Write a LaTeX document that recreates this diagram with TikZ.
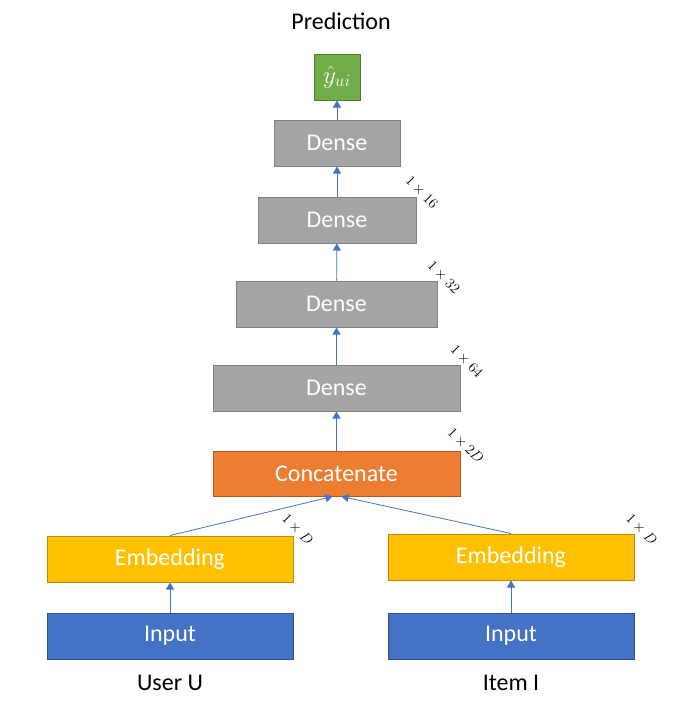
\documentclass[tikz,border=0pt]{standalone}
\usepackage{fontspec}
\setmainfont{Carlito}
\usetikzlibrary{arrows.meta}
\definecolor{densefill}{HTML}{A5A5A5}
\definecolor{denseline}{HTML}{7F7F7F}
\definecolor{catfill}{HTML}{ED7D31}
\definecolor{catline}{HTML}{AE5A21}
\definecolor{embfill}{HTML}{FFC000}
\definecolor{embline}{HTML}{BC8C00}
\definecolor{infill}{HTML}{4472C4}
\definecolor{inline}{HTML}{2F528F}
\definecolor{outfill}{HTML}{70AD47}
\definecolor{outline}{HTML}{507E32}
\definecolor{linkblue}{HTML}{4472C4}
\begin{document}
\begin{tikzpicture}[x=1pt,y=-1pt,
		box/.style={draw,line width=1pt,minimum height=46pt,inner sep=0pt,text=white,font=\fontsize{24}{28}\selectfont},
		dense/.style={box,fill=densefill,draw=denseline},
		link/.style={draw=linkblue,line width=0.8pt,-{Triangle[width=8pt,length=7pt]}},
		dim/.style={rotate=-45,inner sep=0pt,font=\fontsize{14}{15}\selectfont},
		caption/.style={font=\fontsize{24}{28}\selectfont}]
	\useasboundingbox (0,0) rectangle (691,721);
	
	\node[caption] (pred) at (341,21) {Prediction};
	\node[box,fill=outfill,draw=outline,minimum width=46pt,font=\fontsize{27}{30}\selectfont] (yhat) at (337,77) {$\hat{y}_{ui}$};
	
	\node[dense,minimum width=126pt] (dense1) at (337,143) {Dense};
	\node[dense,minimum width=158pt] (dense2) at (337,220) {Dense};
	\node[dense,minimum width=201pt] (dense3) at (336.5,304) {Dense};
	\node[dense,minimum width=247pt] (dense4) at (336.5,388) {Dense};
	\node[box,fill=catfill,draw=catline,minimum width=247pt,minimum height=45pt] (concat) at (336.5,473.5) {Concatenate};
	
	\node[box,fill=embfill,draw=embline,minimum width=246pt] (embU) at (170,559) {Embedding};
	\node[box,fill=embfill,draw=embline,minimum width=246pt] (embI) at (511,557) {Embedding};
	\node[box,fill=infill,draw=inline,minimum width=246pt] (inU) at (170,636) {Input};
	\node[box,fill=infill,draw=inline,minimum width=246pt] (inI) at (511,636) {Input};
	
	\node[caption] (user) at (170,683) {User U};
	\node[caption] (item) at (511,683) {Item I};
	
	% sizes at the corners
	\node[dim] at ([shift={(5,-4)}]dense2.north east) {$1\times16$};
	\node[dim] at ([shift={(6,-3)}]dense3.north east) {$1\times32$};
	\node[dim] at ([shift={(6,-3)}]dense4.north east) {$1\times64$};
	\node[dim] at ([shift={(5,-5)}]concat.north east) {$1\times2D$};
	\node[dim] at ([shift={(4,-6)}]embU.north east) {$1\times D$};
	\node[dim] at ([shift={(7,-4)}]embI.north east) {$1\times D$};
	
	\draw[link] (inU) -- (embU);
	\draw[link] (inI) -- (embI);
	\draw[link] (embU.north) -- ([xshift=-4pt]concat.south);
	\draw[link] (embI.north) -- ([xshift=5pt]concat.south);
	\draw[link] (concat) -- (dense4);
	\draw[link] (dense4) -- (dense3);
	\draw[link] (dense3) -- (dense2);
	\draw[link] (dense2) -- (dense1);
	\draw[link] (dense1) -- (yhat);
	
\end{tikzpicture}
\end{document}
